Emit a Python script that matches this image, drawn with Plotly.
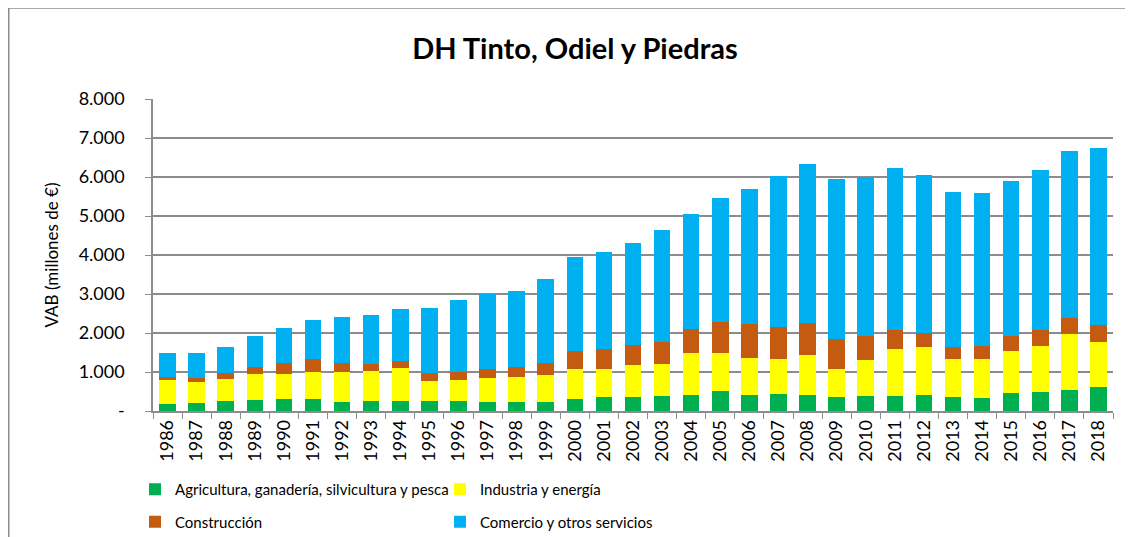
import plotly.graph_objects as go

years = [str(y) for y in range(1986, 2019)]
agricultura = [187, 213, 256, 282, 315, 307, 238, 247, 264, 246, 264, 221, 230, 238, 307, 349, 367,
               392, 418, 503, 418, 444, 418, 359, 375, 392, 418, 359, 341, 451, 477, 538, 623]
industria = [616, 530, 564, 658, 625, 683, 752, 769, 830, 523, 531, 615, 632, 675, 778, 718, 820,
             821, 1059, 974, 931, 879, 1018, 726, 940, 1205, 1223, 982, 982, 1095, 1197, 1426, 1136]
construccion = [77, 93, 145, 196, 281, 333, 248, 179, 180, 196, 213, 231, 256, 308, 443, 523, 495,
                546, 615, 795, 872, 839, 828, 769, 616, 470, 367, 308, 334, 385, 403, 420, 436]
servicios = [607, 659, 685, 794, 907, 1010, 1180, 1266, 1350, 1685, 1828, 1923, 1959, 2164, 2410, 2477, 2633,
             2890, 2959, 3190, 3471, 3864, 4069, 4095, 4061, 4154, 4043, 3966, 3933, 3974, 4102, 4290, 4550]

series_names = ["Agricultura, ganadería, silvicultura y pesca", "Industria y energía",
                "Construcción", "Comercio y otros servicios"]
colors = ["#00B050", "#FFFF00", "#C55A11", "#00B0F0"]
legend_ids = ["legend", "legend2", "legend", "legend2"]

y_tickvals = [0, 1000, 2000, 3000, 4000, 5000, 6000, 7000, 8000]
y_ticktext = ["-", "1.000", "2.000", "3.000", "4.000", "5.000", "6.000", "7.000", "8.000"]

# the page body has an 8px margin, so the figure is 8px smaller than the window
W, H = 1125, 529
L, R, T, B = 145, 20, 91, 126
PW, PH = W - L - R, H - T - B

def px_x(x):
    return (x - L) / PW

def px_y(y):
    return (H - B - y) / PH

FONT = "Lato"
GRAY = "#8c8c8c"

fig = go.Figure()
for i, vals in enumerate([agricultura, industria, construccion, servicios]):
    fig.add_trace(go.Bar(
        x=years, y=vals, name=series_names[i],
        marker=dict(color=colors[i], line=dict(width=0)),
        legend=legend_ids[i], legendgroup=series_names[i],
    ))

fig.update_layout(
    width=W, height=H,
    barmode="stack", bargap=0.43,
    plot_bgcolor="white", paper_bgcolor="white",
    margin=dict(l=L, r=R, t=T, b=B, autoexpand=False),
    font=dict(family=FONT, size=18, color="black"),
    title=dict(text="<b>DH Tinto, Odiel y Piedras</b>", x=567 / W, xref="container", xanchor="center",
               y=1 - 41 / H, yref="container", yanchor="middle",
               font=dict(family=FONT, size=29, color="black")),
    xaxis=dict(
        type="category", tickangle=-90, ticks="outside", tickson="boundaries", ticklen=6,
        tickcolor=GRAY, showline=True, linecolor=GRAY, linewidth=1.5,
        showgrid=False, tickfont=dict(size=18), automargin=False,
    ),
    yaxis=dict(
        range=[0, 8000], tickvals=y_tickvals, ticktext=y_ticktext,
        ticks="outside", ticklen=6, tickcolor=GRAY, showline=True, linecolor=GRAY,
        linewidth=1.5, showgrid=True, gridcolor=GRAY, gridwidth=1.5,
        tickfont=dict(size=18), ticklabelstandoff=17, automargin=False,
        title=dict(text="VAB (millones de €)", standoff=16, font=dict(size=17)),
    ),
    legend=dict(orientation="v", x=px_x(127), xanchor="left", y=px_y(465), yanchor="top",
                font=dict(size=15), tracegroupgap=10, bgcolor="rgba(0,0,0,0)"),
    legend2=dict(orientation="v", x=px_x(432), xanchor="left", y=px_y(465), yanchor="top",
                 font=dict(size=15), tracegroupgap=10, bgcolor="rgba(0,0,0,0)"),
    showlegend=True,
    shapes=[
        dict(type="line", xref="paper", yref="paper", x0=px_x(0.75), x1=px_x(W), y0=px_y(0), y1=px_y(0),
             line=dict(color=GRAY, width=1.5)),
        dict(type="line", xref="paper", yref="paper", x0=px_x(0.75), x1=px_x(0.75), y0=px_y(0), y1=px_y(H + 5),
             line=dict(color=GRAY, width=1.5)),
    ],
)

fig.write_html("out.html")
